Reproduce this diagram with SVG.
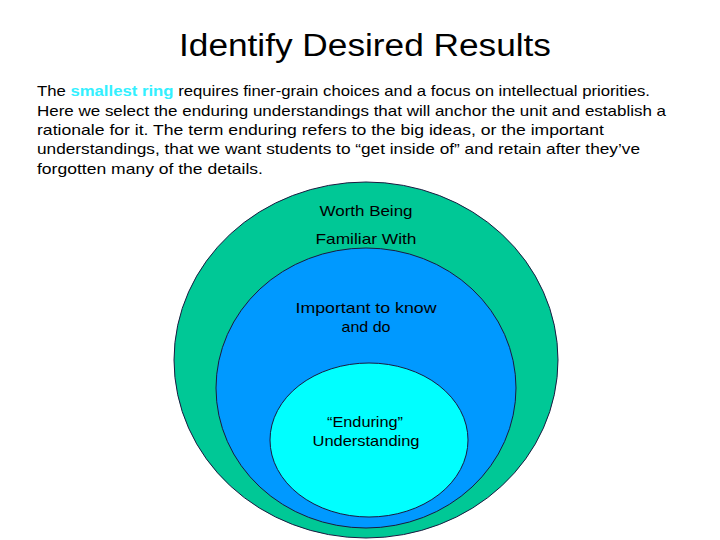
<svg xmlns="http://www.w3.org/2000/svg" width="720" height="540" viewBox="0 0 720 540">
<style>
.t{font-family:"Liberation Sans","DejaVu Sans",sans-serif;fill:#000}
.body{font-size:15px}
.lbl{font-size:15px;text-anchor:middle}
.ring{stroke:#1a1a40;stroke-width:1}
</style>
<rect width="720" height="540" fill="#fff"/>
<text class="t" x="365" y="56" font-size="31" text-anchor="middle" textLength="372" lengthAdjust="spacingAndGlyphs">Identify Desired Results</text>
<g class="t body">
<text x="37" y="96" textLength="613" lengthAdjust="spacingAndGlyphs">The <tspan fill="#33f0ff" font-weight="bold">smallest ring</tspan> requires finer-grain choices and a focus on intellectual priorities.</text>
<text x="37" y="116" textLength="629" lengthAdjust="spacingAndGlyphs">Here we select the enduring understandings that will anchor the unit and establish a</text>
<text x="37" y="135" textLength="567" lengthAdjust="spacingAndGlyphs">rationale for it. The term enduring refers to the big ideas, or the important</text>
<text x="37" y="154" textLength="603" lengthAdjust="spacingAndGlyphs">understandings, that we want students to “get inside of” and retain after they’ve</text>
<text x="37" y="174" textLength="226" lengthAdjust="spacingAndGlyphs">forgotten many of the details.</text>
</g>
<g id="outer">
<ellipse class="ring" cx="366" cy="360" rx="192" ry="178" fill="#00c896"/>
<text class="t lbl" x="366" y="216" textLength="93" lengthAdjust="spacingAndGlyphs">Worth Being</text>
<text class="t lbl" x="366" y="244" textLength="101" lengthAdjust="spacingAndGlyphs">Familiar With</text>
</g>
<g id="middle">
<ellipse class="ring" cx="366" cy="388" rx="150" ry="140" fill="#0099ff"/>
<text class="t lbl" x="366" y="313" fill="#0a1a50" textLength="141" lengthAdjust="spacingAndGlyphs">Important to know</text>
<text class="t lbl" x="366" y="332" fill="#0a1a50" textLength="49" lengthAdjust="spacingAndGlyphs">and do</text>
</g>
<g id="inner">
<ellipse class="ring" cx="369" cy="440" rx="99" ry="77" fill="#00ffff"/>
<text class="t lbl" x="365" y="427" textLength="76" lengthAdjust="spacingAndGlyphs">“Enduring”</text>
<text class="t lbl" x="366" y="446" textLength="107" lengthAdjust="spacingAndGlyphs">Understanding</text>
</g>
<g id="connectors"/>
</svg>
